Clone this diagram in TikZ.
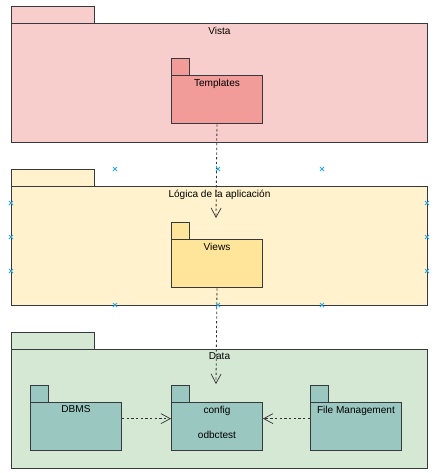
\documentclass[tikz,border=0pt]{standalone}
\usepackage{fontspec}
\setmainfont{Liberation Sans}
\usetikzlibrary{arrows.meta}

\definecolor{vistafill}{HTML}{F8CECC}
\definecolor{tmplfill}{HTML}{F19C99}
\definecolor{logicfill}{HTML}{FFF2CC}
\definecolor{viewsfill}{HTML}{FFE599}
\definecolor{datafill}{HTML}{D5E8D4}
\definecolor{modfill}{HTML}{9AC7BF}
\definecolor{pkgline}{HTML}{36393D}
\definecolor{handle}{HTML}{29A8E8}

\tikzset{
  pkg/.style={draw=pkgline, line width=0.8pt, anchor=north west, inner sep=0pt},
  outerpkg/.style={pkg, minimum width=12.48cm, minimum height=3.57cm},
  innerpkg/.style={pkg, minimum width=2.73cm, minimum height=1.45cm},
  pkgtab/.style={draw=pkgline, line width=0.8pt},
  pkgname/.style={font=\fontsize{8.6}{10}\selectfont, inner sep=3pt, anchor=north},
  dep/.style={draw=black!80, line width=0.7pt, dash pattern=on 2pt off 2pt,
    -{Straight Barb[length=2.8mm, width=3mm, line width=0.6pt]}},
  handlemark/.style={draw=handle, line width=0.7pt},
}

\begin{document}
\begin{tikzpicture}[x=0.03cm, y=-0.03cm]
  \useasboundingbox (0,0) rectangle (439,473);

  % Vista
  \node[outerpkg, fill=vistafill, label={[pkgname]north:Vista}] (vista) at (11,23) {};
  \draw[pkgtab, fill=vistafill] (vista.north west) rectangle ++(83,-17);
  \node[innerpkg, fill=tmplfill, label={[pkgname]north:Templates}] (tmpl) at (171,75) {};
  \draw[pkgtab, fill=tmplfill] (tmpl.north west) rectangle ++(18,-17);

  % Logica de la aplicacion
  \node[outerpkg, fill=logicfill, label={[pkgname]north:Lógica de la aplicación}] (logic) at (11,186) {};
  \draw[pkgtab, fill=logicfill] (logic.north west) rectangle ++(83,-17);
  \node[innerpkg, fill=viewsfill, label={[pkgname]north:Views}] (views) at (171,239) {};
  \draw[pkgtab, fill=viewsfill] (views.north west) rectangle ++(18,-17);

  % Data
  \node[outerpkg, fill=datafill, label={[pkgname]north:Data}] (data) at (11,349) {};
  \draw[pkgtab, fill=datafill] (data.north west) rectangle ++(83,-17);
  \node[innerpkg, fill=modfill, label={[pkgname]north:DBMS}] (dbms) at (30,402) {};
  \draw[pkgtab, fill=modfill] (dbms.north west) rectangle ++(18,-17);
  \node[innerpkg, fill=modfill, label={[pkgname]north:config},
    label={[pkgname, anchor=center, yshift=-0.24cm]center:odbctest}] (config) at (171,402) {};
  \draw[pkgtab, fill=modfill] (config.north west) rectangle ++(18,-17);
  \node[innerpkg, fill=modfill, label={[pkgname]north:File Management}] (files) at (310,402) {};
  \draw[pkgtab, fill=modfill] (files.north west) rectangle ++(18,-17);

  % dependencies
  \coordinate (viewsin) at (216,218);
  \coordinate (datain) at (216,384);
  \draw[dep] (tmpl.south) -- (viewsin);
  \draw[dep] (views.south) -- (datain);
  \draw[dep] ([yshift=0.24cm]dbms.east) -- ([yshift=0.24cm]config.west);
  \draw[dep] ([yshift=0.24cm]files.west) -- ([yshift=0.24cm]config.east);

  % selection handles
  \foreach \hx/\hy in {115/169, 218/169, 322/169, 11/203, 11/237, 11/271,
                       427/203, 427/237, 427/271, 115/305, 218/305, 322/305}
    \draw[handlemark] (\hx-2,\hy-2) -- (\hx+2,\hy+2) (\hx-2,\hy+2) -- (\hx+2,\hy-2);
\end{tikzpicture}
\end{document}
